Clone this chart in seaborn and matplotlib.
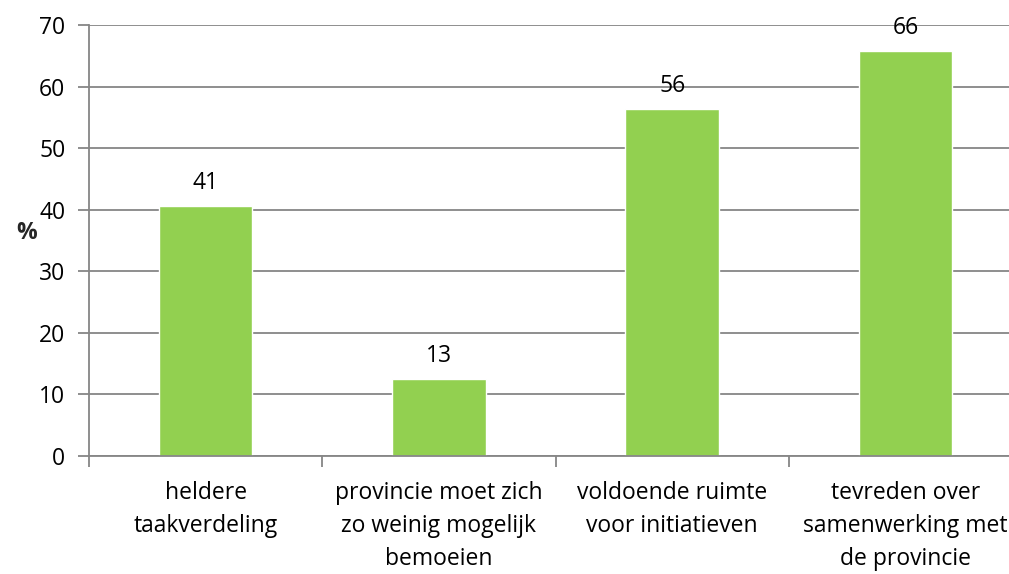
import numpy as np
import pandas as pd
import seaborn as sns
import matplotlib.pyplot as plt
from matplotlib.ticker import FixedLocator

# values
categories = ['heldere\ntaakverdeling',
              'provincie moet zich\nzo weinig mogelijk\nbemoeien',
              'voldoende ruimte\nvoor initiatieven',
              'tevreden over\nsamenwerking met\nde provincie']
values = [40.6, 12.5, 56.3, 65.7]
labels = ['41', '13', '56', '66']

data = pd.DataFrame({'cat': categories, 'pct': values})

sns.set_style('white')
plt.rcParams['font.family'] = ['Open Sans', 'DejaVu Sans']
plt.rcParams['text.color'] = 'black'
plt.rcParams['xtick.labelcolor'] = 'black'
plt.rcParams['ytick.labelcolor'] = 'black'

fig = plt.figure(figsize=(10.09, 5.74), dpi=100)
# plot area runs a little past the right edge of the picture, as in the original
ax = fig.add_axes([0.0882, 0.2056, 0.9247, 0.7508])

sns.barplot(x='cat', y='pct', data=data, color='#92D050', saturation=1,
            width=0.40, ax=ax)

grid_c = '#868686'
fs = 16.5
ax.set_ylim(0, 70)
ax.set_xlim(-0.5, 3.5)
ax.set_yticks(range(0, 71, 10))
ax.yaxis.grid(True, color=grid_c, linewidth=1.3)
ax.set_axisbelow(True)
for s in ['top', 'right']:
    ax.spines[s].set_visible(False)
for s in ['left', 'bottom']:
    ax.spines[s].set_color(grid_c)
    ax.spines[s].set_linewidth(1.3)

ax.tick_params(axis='y', which='major', left=True, direction='out', length=8,
               width=1.3, color=grid_c, labelsize=fs, pad=9)
ax.tick_params(axis='x', which='major', bottom=True, length=0, labelsize=fs, pad=18)
ax.xaxis.set_minor_locator(FixedLocator([-0.5, 0.5, 1.5, 2.5, 3.5]))
ax.tick_params(axis='x', which='minor', bottom=True, direction='out', length=8,
               width=1.3, color=grid_c)
ax.set_xticks(range(len(categories)))
ax.set_xticklabels(categories, linespacing=1.5, fontsize=fs)

ax.set_xlabel('')
ax.set_ylabel('%', rotation=0, fontsize=fs, fontweight='bold')
ax.yaxis.set_label_coords(-0.067, 0.49)

for i, (v, lab) in enumerate(zip(values, labels)):
    ax.annotate(lab, (i, v), xytext=(0, 8), textcoords='offset points',
                ha='center', va='bottom', fontsize=fs)

fig.savefig('out.png', dpi=100)
